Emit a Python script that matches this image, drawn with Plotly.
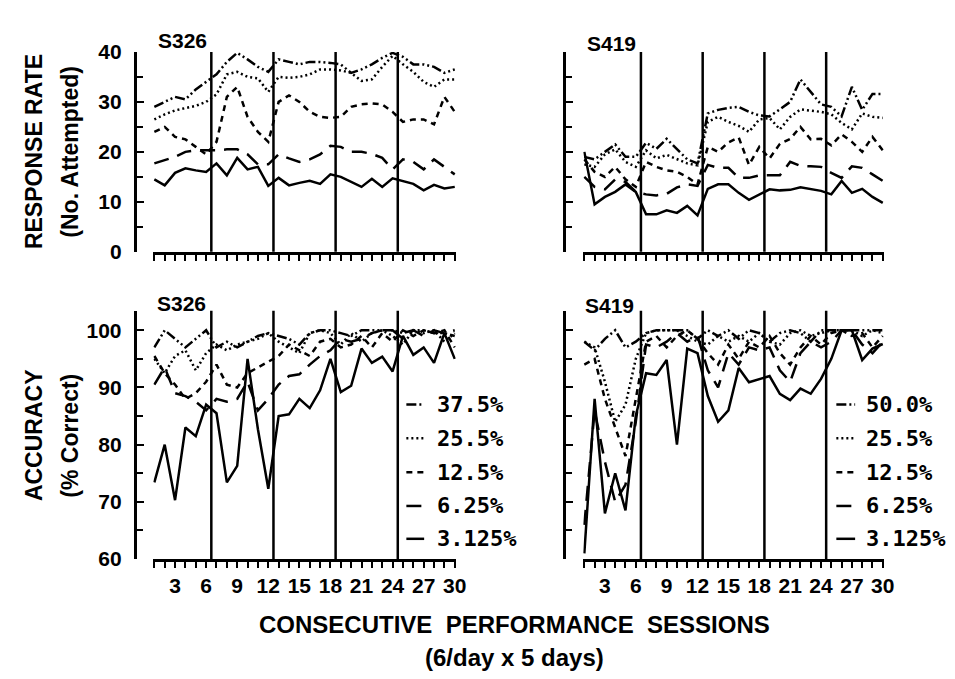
import plotly.graph_objects as go

# ---------------- data ----------------
sessions = list(range(1, 31))
day_breaks = [6.5, 12.5, 18.5, 24.5]
x_tick_step = 3

labels_s326 = ["37.5%", "25.5%", "12.5%", "6.25%", "3.125%"]
labels_s419 = ["50.0%", "25.5%", "12.5%", "6.25%", "3.125%"]

# Response rate (No. attempted), S326
rate_s326_375 = [29, 30, 31, 30.5, 32.5, 34, 35.5, 38, 39.8, 38.5, 37, 36, 38.5, 38, 37.5,
                 38, 38, 37.8, 37.5, 35.8, 36.5, 37.5, 38.8, 39.8, 39, 37.5, 37.5, 37, 35.8, 36.5]
rate_s326_255 = [26.5, 27.5, 28.3, 28.7, 29.2, 30, 31.5, 35.5, 36, 35, 34.7, 32, 35, 34.8, 35,
                 35.5, 36.5, 36.5, 36.3, 35.8, 34.2, 34.5, 37, 39.2, 37.5, 36, 34, 33, 34.5, 34.5]
rate_s326_125 = [24, 25, 23, 22.5, 21, 19.5, 22, 31, 33, 27, 24, 22, 30, 31.3, 30,
                 28, 27, 26.8, 27, 29, 29.5, 29.7, 29.5, 28, 26, 26.5, 26.5, 25.5, 31, 28]
rate_s326_625 = [17.7, 18.3, 19, 20, 20.3, 20.3, 20.3, 20.5, 20.5, 19.5, 17.5, 17.5, 19.5, 18.7, 18,
                 18.5, 19.5, 21.2, 21, 20, 20, 19.6, 18.8, 16.5, 18.5, 18, 16.5, 18.5, 17, 15.5]
rate_s326_3125 = [14.5, 13.3, 15.8, 16.7, 16.3, 16, 17.7, 15.3, 18.8, 16.5, 17, 13.2, 14.8, 13.3, 13.8,
                  14.2, 13.6, 15.5, 15, 14, 13, 14.6, 13, 14.7, 14.2, 13.6, 12.3, 13.4, 12.7, 13]

# Response rate (No. attempted), S419
rate_s419_500 = [19, 18.5, 20, 21.5, 19, 19, 21.8, 20.6, 22.6, 20.5, 18.5, 17.7, 27.7, 28.4, 28.8,
                 29, 28, 27.3, 27.1, 28.5, 30, 34.5, 32, 29.5, 29, 27.1, 33, 28.4, 31.6, 31.6]
rate_s419_255 = [17.5, 17, 19.5, 20.5, 18, 17, 20.3, 18.7, 19.4, 18.5, 17.7, 17.3, 26, 27, 26,
                 25.2, 24, 26.5, 26.8, 24.5, 27, 28.5, 28.2, 28, 27.5, 25.8, 24.5, 27.7, 27, 26.8]
rate_s419_125 = [18.5, 16, 15, 17, 14.5, 13, 18, 17, 16.3, 16, 15, 13.5, 21, 20, 21.9,
                 22.9, 17.4, 21, 18.7, 21.6, 22.6, 25, 22.5, 22.6, 21.3, 23.5, 22, 20, 23, 20.3]
rate_s419_625 = [15, 13, 12.5, 14.5, 14, 12, 11.5, 11.3, 11.6, 12.9, 13.5, 13.2, 17.4, 16.8, 16.8,
                 14.8, 14.8, 15.3, 15.3, 15.3, 18, 17.2, 17.1, 17, 15.8, 14.8, 17.1, 16.8, 15.5, 14.2]
rate_s419_3125 = [20, 9.5, 11, 12, 13.5, 12, 7.5, 7.5, 8.3, 7.8, 9.2, 7.3, 12.6, 13.5, 13.5,
                  11.8, 10.4, 11.5, 12.5, 12.3, 12.4, 12.9, 12.5, 12.2, 11.5, 14.2, 11.8, 12.6, 11, 9.8]

# Accuracy (% correct), S326
acc_s326_375 = [97, 100, 98.5, 97, 98.5, 100, 97, 98, 97, 98, 99, 99.5, 99, 98.5, 97.5,
                99.5, 100, 100, 99.5, 99, 100, 100, 100, 100, 99.5, 100, 100, 99.5, 99.5, 99]
acc_s326_255 = [95, 92.5, 95.5, 96.5, 93, 96, 97.5, 96.5, 97.5, 98, 98.5, 99.5, 98, 97, 96,
                99.5, 100, 99.5, 97.5, 99.5, 98, 99.5, 100, 99, 97.5, 100, 99.5, 100, 98, 99.5]
acc_s326_125 = [95.5, 92.5, 90.5, 88, 89, 91, 94, 90.5, 90, 92.5, 93.5, 94.5, 95.5, 97.5, 96.5,
                95.5, 98, 98.5, 97, 97.5, 99, 97, 99.5, 98, 100, 99, 100, 99.5, 100, 97]
acc_s326_625 = [90.5, 93.5, 89, 88.5, 87.5, 86, 88, 87.5, 88, 91, 86, 88, 90.5, 92, 92.3,
                94, 95.5, 96.5, 98.5, 98, 98.5, 99.5, 100, 100, 98.5, 100, 99, 100, 99.5, 100]
acc_s326_3125 = [73.4, 80, 70.3, 83, 81.5, 87, 85.5, 73.4, 76.3, 95, 82.7, 72.3, 85, 85.3, 88,
                 86.4, 89.5, 95, 89.2, 90.3, 96.8, 94.3, 95.4, 92.8, 99, 95.7, 97, 94.3, 99.5, 95]

# Accuracy (% correct), S419
acc_s419_500 = [98, 96.5, 98.5, 100, 97, 98, 99.5, 100, 100, 100, 100, 98.5, 100, 99, 100,
                98.5, 100, 99.5, 98, 99.5, 100, 99.5, 98, 100, 100, 100, 100, 100, 100, 100]
acc_s419_255 = [98, 97, 91, 84, 87, 95, 99.5, 100, 100, 100, 99, 98, 97.5, 99, 98,
                99, 98, 99.5, 98, 97.5, 99.5, 100, 99, 99.5, 100, 100, 100, 99, 100, 99.5]
acc_s419_125 = [94, 95, 88, 83, 78, 88, 98, 99, 97, 99, 100, 98.5, 96, 94, 97.5,
                95, 98, 97, 99, 96, 94, 97, 99, 97.5, 99.5, 100, 99, 99.5, 97, 99]
acc_s419_625 = [66, 86, 77, 70, 73, 84, 97.5, 97, 98, 99.5, 98, 99, 93, 90, 96,
                94, 97, 96.5, 97, 93, 91, 96, 98, 97, 98, 100, 100, 97.5, 96, 98]
acc_s419_3125 = [61, 88, 68, 75, 68.5, 85, 92.5, 92.2, 94.8, 80, 96.8, 96, 88.5, 84, 86,
                 93.4, 90.9, 91.5, 92, 88.9, 87.8, 89.8, 88.9, 91.5, 95, 100, 100, 94.8, 96.8, 97.6]

rate_s326 = [rate_s326_375, rate_s326_255, rate_s326_125, rate_s326_625, rate_s326_3125]
rate_s419 = [rate_s419_500, rate_s419_255, rate_s419_125, rate_s419_625, rate_s419_3125]
acc_s326 = [acc_s326_375, acc_s326_255, acc_s326_125, acc_s326_625, acc_s326_3125]
acc_s419 = [acc_s419_500, acc_s419_255, acc_s419_125, acc_s419_625, acc_s419_3125]

# ---------------- styles ----------------
W, H = 955, 679
FONT = "Liberation Sans, Arial, Helvetica, sans-serif"
MONO = "DejaVu Sans Mono, monospace"
dashes = ["10px,3px,2px,3px,2px,3px", "2px,3px", "6px,5px", "15px,9px", "solid"]
LW = 2.5


def fx(x):
    return x / W


def fy(y):
    return 1 - y / H


def bfont(size, family=FONT):
    return dict(family=family, size=size, color="black", weight="bold")


fig = go.Figure()

panels = [
    ("x", "y", rate_s326, labels_s326),
    ("x2", "y2", rate_s419, labels_s419),
    ("x3", "y3", acc_s326, labels_s326),
    ("x4", "y4", acc_s419, labels_s419),
]
for xa, ya, series, labels in panels:
    for vals, dash, lab in zip(series, dashes, labels):
        fig.add_trace(go.Scatter(x=sessions, y=vals, mode="lines", name=lab,
                                 xaxis=xa, yaxis=ya, showlegend=False,
                                 line=dict(color="black", width=LW, dash=dash)))

x_left = [fx(147), fx(453)]
x_right = [fx(582), fx(886)]
y_top = [fy(240), fy(33)]
y_bot = [fy(558), fy(301)]


def xaxis(domain, anchor, labels):
    return dict(domain=domain, anchor=anchor, range=[0.9, 30.1], showline=True,
                linewidth=2.5, linecolor="black", ticks="outside", ticklen=6,
                tickwidth=2, tickcolor="black", tick0=0, dtick=x_tick_step,
                showticklabels=labels, showgrid=False, zeroline=False,
                tickfont=bfont(21),
                minor=dict(dtick=1, tick0=0, ticks="outside", ticklen=6,
                           tickwidth=2, tickcolor="black", showgrid=False))


def yaxis(domain, rng, pos, labels):
    return dict(domain=domain, anchor="free", position=pos, range=rng,
                showline=True, linewidth=2.5, linecolor="black", ticks="inside",
                ticklen=8, tickwidth=2, tickcolor="black", tick0=0, dtick=10,
                showticklabels=labels, showgrid=False, zeroline=False,
                ticklabelstandoff=8,
                tickfont=bfont(21),
                minor=dict(dtick=5, ticks="inside", ticklen=7, tickwidth=2,
                           tickcolor="black", showgrid=False))


fig.update_layout(
    width=W, height=H, margin=dict(l=0, r=0, t=0, b=0),
    paper_bgcolor="white", plot_bgcolor="white", showlegend=False,
    xaxis=xaxis(x_left, "y", False),
    xaxis2=xaxis(x_right, "y2", False),
    xaxis3=xaxis(x_left, "y3", True),
    xaxis4=xaxis(x_right, "y4", True),
    yaxis=yaxis(y_top, [0, 40], fx(128), True),
    yaxis2=yaxis(y_top, [0, 40], fx(562), False),
    yaxis3=yaxis(y_bot, [60, 103.4], fx(128), True),
    yaxis4=yaxis(y_bot, [60, 103.4], fx(562), False),
)

# day boundaries (6 sessions per day)
for xa, ya, _, _ in panels:
    for b in day_breaks:
        fig.add_shape(type="line", xref=xa, yref=f"{ya} domain", x0=b, x1=b, y0=0, y1=1,
                      line=dict(color="black", width=2.5))

# subject labels
for xp, yp, txt in [(150, 21, "S326"), (584, 24, "S419"), (149, 293, "S326"), (582, 296, "S419")]:
    fig.add_annotation(x=fx(xp), y=fy(yp), xref="paper", yref="paper", text=txt,
                       showarrow=False, xanchor="left", yanchor="middle",
                       font=bfont(21))

# legends
rows = [398, 433, 468, 503, 537]
for (x0, x1, xt), labels in [((403, 421, 432), labels_s326), ((838, 857, 866), labels_s419)]:
    for r, dash, lab in zip(rows, dashes, labels):
        fig.add_shape(type="line", xref="paper", yref="paper", x0=fx(x0), x1=fx(x1),
                      y0=fy(r), y1=fy(r), line=dict(color="black", width=LW, dash=dash))
        fig.add_annotation(x=fx(xt), y=fy(r), xref="paper", yref="paper", text=lab,
                           showarrow=False, xanchor="left", yanchor="middle",
                           font=bfont(22, MONO))

# axis titles
for xp, yp, txt in [(27, 136, "RESPONSE RATE"), (63, 136, "(No. Attempted)"),
                    (27, 430, "ACCURACY"), (63, 430, "(% Correct)")]:
    fig.add_annotation(x=fx(xp), y=fy(yp), xref="paper", yref="paper", text=txt,
                       showarrow=False, textangle=-90, xanchor="center", yanchor="middle",
                       font=bfont(23))

fig.add_annotation(x=fx(512), y=fy(626), xref="paper", yref="paper",
                   text="CONSECUTIVE\u00a0 PERFORMANCE\u00a0 SESSIONS", showarrow=False,
                   xanchor="center", yanchor="middle",
                   font=bfont(24))
fig.add_annotation(x=fx(512), y=fy(660), xref="paper", yref="paper",
                   text="(6/day x 5 days)", showarrow=False,
                   xanchor="center", yanchor="middle",
                   font=bfont(24))

fig.write_html("out.html")
